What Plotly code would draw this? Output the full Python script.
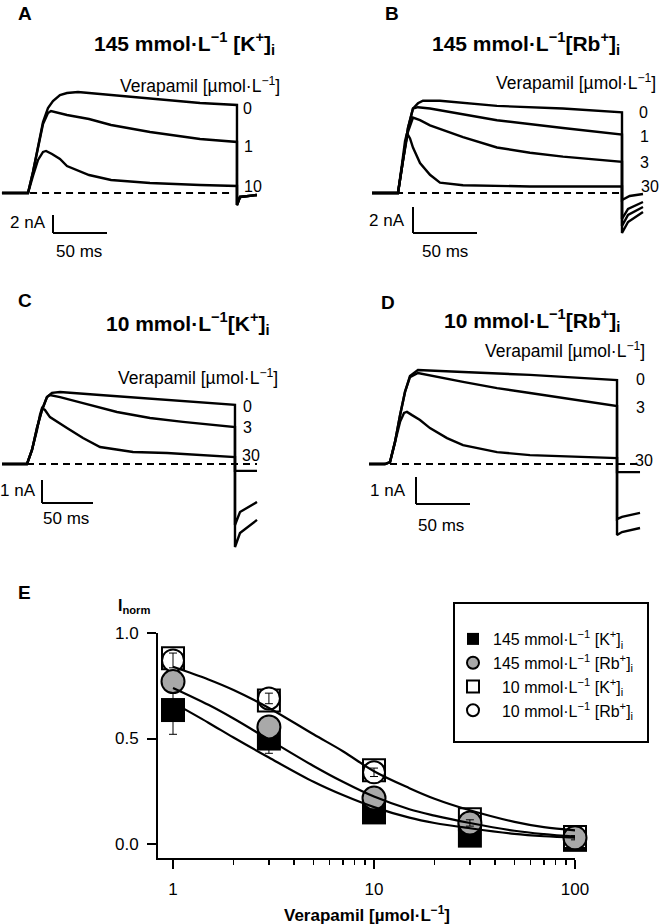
import math
import plotly.graph_objects as go

W, H = 661, 924
FONT = "Liberation Sans, Arial, Helvetica, sans-serif"

# ------------------------------------------------------------------ data
# Panel A: 145 mM K+  (time in ms from pulse onset, current in nA)
A_T_0 = [-24.1, 0, 4.6, 9.3, 13.9, 18.5, 23.1, 29.6, 36.1, 46.3, 76.9, 113, 159.3, 193.5, 193.5, 196.3, 212]
A_I_0 = [0, 0, 2.33, 5.33, 7.89, 9.44, 10.22, 10.89, 11.11, 11.22, 10.89, 10.56, 10.0, 9.78, -1.33, -0.44, -0.22]
A_T_1 = [-24.1, 0, 4.6, 9.3, 13.9, 18.5, 21.3, 36.1, 56.5, 76.9, 113, 159.3, 193.5, 193.5, 196.3, 212]
A_I_1 = [0, 0, 2.33, 5.22, 7.67, 8.89, 9.11, 8.67, 8.22, 7.56, 6.78, 6.0, 5.67, -1.33, -0.44, -0.22]
A_T_10 = [-24.1, 0, 4.6, 9.3, 13.9, 16.7, 22.2, 29.6, 36.1, 48.1, 56.5, 76.9, 113, 159.3, 193.5, 193.5, 196.3, 212]
A_I_10 = [0, 0, 1.89, 3.67, 4.56, 4.67, 4.33, 3.78, 3.0, 2.44, 2.0, 1.44, 1.11, 0.89, 0.78, -1.33, -0.44, -0.22]
A_BASE_T = [1.9, 190]
A_CONC = ["0", "1", "10"]

# Panel B: 145 mM Rb+
B_T_0 = [-20.3, 0, 3.9, 7.8, 11.7, 15.6, 19.5, 32.8, 77.3, 128.9, 175, 175, 179.7, 191.4]
B_I_0 = [0, 0, 2.5, 5.0, 6.5, 6.9, 7.1, 7.1, 6.7, 6.5, 6.2, -3.08, -2.23, -1.46]
B_T_1 = [-20.3, 0, 3.9, 7.8, 11.7, 15.6, 25, 48.4, 77.3, 128.9, 175, 175, 179.7, 191.4]
B_I_1 = [0, 0, 2.5, 5.0, 6.5, 6.6, 6.5, 6.1, 5.6, 5.0, 4.5, -2.54, -1.69, -1.08]
B_T_3 = [-20.3, 0, 3.9, 7.8, 11.7, 17.2, 25, 50.8, 77.3, 103.1, 128.9, 175, 175, 179.7, 191.4]
B_I_3 = [0, 0, 2.5, 4.7, 5.8, 5.6, 5.2, 4.3, 3.5, 3.1, 2.8, 2.4, -2.0, -1.23, -0.69]
B_T_30 = [-20.3, 0, 3.1, 5.5, 7.0, 9.4, 11.7, 17.2, 25, 32.8, 50.8, 103.1, 175, 175, 181, 191.4]
B_I_30 = [0, 0, 2.2, 4.0, 4.6, 4.2, 3.5, 2.3, 1.4, 0.8, 0.6, 0.5, 0.5, -0.54, -0.23, -0.08]
B_BASE_T = [-20.3, 173]
B_CONC = ["0", "1", "3", "30"]

# Panel C: 10 mM K+
C_T_0 = [-24.5, 0, 4.9, 9.8, 14.7, 19.6, 24.5, 32.4, 71.6, 137.3, 203.9, 203.9, 208.8, 225.5]
C_I_0 = [0, 0, 0.61, 1.57, 2.35, 2.91, 3.09, 3.13, 3.0, 2.78, 2.57, -3.61, -3.0, -2.43]
C_T_3 = [-24.5, 0, 4.9, 9.8, 14.7, 19.6, 22.5, 32.4, 54.9, 88.2, 120.6, 152.9, 203.9, 203.9, 208.8, 225.5]
C_I_3 = [0, 0, 0.61, 1.57, 2.35, 2.91, 3.0, 2.91, 2.65, 2.26, 2.0, 1.83, 1.61, -2.65, -2.09, -1.65]
C_T_30 = [-24.5, 0, 4.9, 9.8, 12.7, 14.7, 17.6, 22.5, 39.2, 54.9, 71.6, 103.9, 137.3, 203.9, 203.9, 225.5]
C_I_30 = [0, 0, 0.61, 1.48, 2.13, 2.43, 2.35, 2.04, 1.57, 1.13, 0.74, 0.52, 0.48, 0.30, -0.30, -0.30]
C_BASE_T = [0, 225.5]
C_CONC = ["0", "3", "30"]

# Panel D: 10 mM Rb+
D_T_0 = [-19.4, -4.6, 0, 4.6, 9.3, 13.9, 18.5, 25.9, 67.6, 129.6, 210.2, 210.2, 214.8, 231.5]
D_I_0 = [0, 0, 0.07, 0.81, 1.81, 2.67, 3.26, 3.48, 3.41, 3.30, 3.11, -2.63, -2.52, -2.37]
D_T_3 = [-19.4, -4.6, 0, 4.6, 9.3, 13.9, 18.5, 25.9, 67.6, 99.1, 129.6, 160.2, 210.2, 210.2, 214.8, 231.5]
D_I_3 = [0, 0, 0.07, 0.81, 1.81, 2.67, 3.22, 3.37, 3.04, 2.81, 2.63, 2.44, 2.15, -2.04, -1.96, -1.81]
D_T_30 = [-19.4, -4.6, 0, 4.6, 9.3, 13, 15.7, 20.4, 27.8, 37, 52.8, 67.6, 99.1, 129.6, 210.2, 210.2, 231.5]
D_I_30 = [0, 0, 0.07, 0.81, 1.56, 1.89, 1.93, 1.81, 1.63, 1.33, 0.96, 0.70, 0.44, 0.33, 0.22, -0.30, -0.30]
D_BASE_T = [0, 234]
D_CONC = ["0", "3", "30"]

SCALE_MS = 50
SCALE_NA = {"A": 2, "B": 2, "C": 1, "D": 1}

# Panel E: concentration-response (verapamil, µmol/L) and normalised current
VERA = [1, 3, 10, 30, 100]
K145 = [0.635, 0.50, 0.15, 0.04, 0.02]
K145_ERR = [0.115, 0.07, 0.025, 0.015, 0.01]
RB145 = [0.77, 0.555, 0.218, 0.10, 0.03]
RB145_ERR = [0.04, 0.03, 0.03, 0.02, 0.012]
K10 = [0.88, 0.68, 0.35, 0.118, 0.033]
K10_ERR = [0.03, 0.03, 0.03, 0.02, 0.01]
RB10 = [0.87, 0.69, 0.34, 0.10, 0.03]
RB10_ERR = [0.035, 0.025, 0.02, 0.015, 0.01]
SERIES_NAMES = ["145 mmol·L<sup>−1</sup> [K<sup>+</sup>]<sub>i</sub>",
                "145 mmol·L<sup>−1</sup> [Rb<sup>+</sup>]<sub>i</sub>",
                "\u00a0\u00a010 mmol·L<sup>−1</sup> [K<sup>+</sup>]<sub>i</sub>",
                "\u00a0\u00a010 mmol·L<sup>−1</sup> [Rb<sup>+</sup>]<sub>i</sub>"]
# fitted curves
CURVE_X = [1, 1.5, 2, 3, 5, 7, 10, 15, 20, 30, 50, 70, 100]
FIT_10 = [0.84, 0.78, 0.73, 0.645, 0.52, 0.44, 0.345, 0.265, 0.215, 0.16, 0.105, 0.08, 0.065]
FIT_RB145 = [0.74, 0.66, 0.595, 0.495, 0.37, 0.295, 0.225, 0.165, 0.135, 0.10, 0.063, 0.047, 0.035]
FIT_K145 = [0.67, 0.575, 0.505, 0.41, 0.295, 0.232, 0.175, 0.125, 0.10, 0.075, 0.048, 0.037, 0.03]

# ------------------------------------------------------------------ layout helpers
def px(x):
    return x / W


def py(y):
    return 1 - y / H


# pixel geometry of the trace panels (origin = pulse onset / zero current)
PANELS = {
    "A": dict(ax="", x0=28, y0=193, sx=1.08, sy=9.0, box=(0, 330, 55, 275), bar=(53, 215)),
    "B": dict(ax="2", x0=398, y0=193, sx=1.28, sy=13.0, box=(335, 661, 55, 275), bar=(413, 207)),
    "C": dict(ax="3", x0=27, y0=464, sx=1.02, sy=23.0, box=(0, 330, 320, 560), bar=(42, 480)),
    "D": dict(ax="4", x0=390, y0=464, sx=1.08, sy=27.0, box=(335, 661, 320, 560), bar=(416, 477)),
}

TRACES = {
    "A": ([A_T_0, A_T_1, A_T_10], [A_I_0, A_I_1, A_I_10], A_BASE_T),
    "B": ([B_T_0, B_T_1, B_T_3, B_T_30], [B_I_0, B_I_1, B_I_3, B_I_30], B_BASE_T),
    "C": ([C_T_0, C_T_3, C_T_30], [C_I_0, C_I_3, C_I_30], C_BASE_T),
    "D": ([D_T_0, D_T_3, D_T_30], [D_I_0, D_I_3, D_I_30], D_BASE_T),
}

fig = go.Figure()
layout = dict(
    width=W, height=H, margin=dict(l=0, r=0, t=0, b=0),
    paper_bgcolor="white", plot_bgcolor="rgba(0,0,0,0)",
    font=dict(family=FONT, color="black", size=16),
    showlegend=True,
)
shapes = []
annotations = []


def text(x, y, s, size=16, bold=False, xanchor="center", yanchor="middle"):
    annotations.append(dict(
        x=px(x), y=py(y), xref="paper", yref="paper", text=("<b>%s</b>" % s) if bold else s,
        showarrow=False, xanchor=xanchor, yanchor=yanchor,
        font=dict(family=FONT, size=size, color="black")))


for key, p in PANELS.items():
    l, r, t, b = p["box"]
    xa, ya = "xaxis" + p["ax"], "yaxis" + p["ax"]
    xr, yr = "x" + p["ax"], "y" + p["ax"]
    layout[xa] = dict(domain=[px(l), px(r)], range=[(l - p["x0"]) / p["sx"], (r - p["x0"]) / p["sx"]],
                      visible=False, anchor=yr, fixedrange=True)
    layout[ya] = dict(domain=[py(b), py(t)], range=[(p["y0"] - b) / p["sy"], (p["y0"] - t) / p["sy"]],
                      visible=False, anchor=xr, fixedrange=True)
    ts, cs, base = TRACES[key]
    # zero-current reference line
    fig.add_trace(go.Scatter(x=base, y=[0, 0], mode="lines", xaxis=xr, yaxis=yr,
                             line=dict(color="black", width=2, dash="7px,5px"),
                             showlegend=False, hoverinfo="skip", cliponaxis=False))
    for tt, cc in zip(ts, cs):
        fig.add_trace(go.Scatter(x=tt, y=cc, mode="lines", xaxis=xr, yaxis=yr,
                                 line=dict(color="black", width=2.4),
                                 showlegend=False, hoverinfo="skip", cliponaxis=False))
    # scale bars
    bt = (p["bar"][0] - p["x0"]) / p["sx"]
    bi = (p["y0"] - p["bar"][1]) / p["sy"]
    na = SCALE_NA[key]
    shapes.append(dict(type="line", xref=xr, yref=yr, x0=bt, x1=bt, y0=bi, y1=bi - na,
                       line=dict(color="black", width=2)))
    shapes.append(dict(type="line", xref=xr, yref=yr, x0=bt, x1=bt + SCALE_MS, y0=bi - na, y1=bi - na,
                       line=dict(color="black", width=2)))

# ---- panel texts
VERA_LBL = "Verapamil [µmol·L<sup>−1</sup>]"
text(25, 14, "A", 19, True)
text(392, 14, "B", 19, True)
text(25, 300, "C", 19, True)
text(388, 302, "D", 19, True)
text(24, 592, "E", 19, True)

TS = 21
text(184, 43, "145 mmol·L<sup>−1</sup> [K<sup>+</sup>]<sub>i</sub>", TS, True)
text(526, 43, "145 mmol·L<sup>−1</sup>[Rb<sup>+</sup>]<sub>i</sub>", TS, True)
text(188, 323, "10 mmol·L<sup>−1</sup>[K<sup>+</sup>]<sub>i</sub>", TS, True)
text(532, 320, "10 mmol·L<sup>−1</sup>[Rb<sup>+</sup>]<sub>i</sub>", TS, True)

VS = 17.5
text(200, 85, VERA_LBL, VS)
text(576, 82, VERA_LBL, VS)
text(198, 377, VERA_LBL, VS)
text(565, 350, VERA_LBL, VS)

for (x, y), s in zip([(247, 108), (248, 147), (253, 186)], A_CONC):
    text(x, y, s, 16)
for (x, y), s in zip([(643, 112), (644, 136), (644, 162), (650, 186)], B_CONC):
    text(x, y, s, 16)
for (x, y), s in zip([(247, 406), (247, 427), (251, 455)], C_CONC):
    text(x, y, s, 16)
for (x, y), s in zip([(640, 380), (640, 408), (644, 460)], D_CONC):
    text(x, y, s, 16)

SS = 17
text(48, 222, "%d nA" % SCALE_NA["A"], SS, xanchor="right")
text(79, 252, "%d ms" % SCALE_MS, SS)
text(407, 220, "%d nA" % SCALE_NA["B"], SS, xanchor="right")
text(445, 252, "%d ms" % SCALE_MS, SS)
text(38, 490, "%d nA" % SCALE_NA["C"], SS, xanchor="right")
text(66, 518, "%d ms" % SCALE_MS, SS)
text(408, 490, "%d nA" % SCALE_NA["D"], SS, xanchor="right")
text(441, 525, "%d ms" % SCALE_MS, SS)

# ------------------------------------------------------------------ panel E
layout["xaxis5"] = dict(
    type="log", domain=[px(158), px(575)], range=[math.log10(0.842), 2], anchor="y5",
    showline=True, linewidth=2, linecolor="black", showgrid=False, zeroline=False,
    ticks="outside", ticklen=9, tickwidth=2, tickcolor="black",
    tickmode="array", tickvals=[1, 10, 100], ticktext=["1", "10", "100"],
    tickfont=dict(family=FONT, size=17), ticklabelstandoff=6,
    minor=dict(ticks="outside", ticklen=5, tickwidth=1.5, tickcolor="black", showgrid=False,
               tickmode="array", tickvals=[2, 3, 4, 5, 6, 7, 8, 9, 20, 30, 40, 50, 60, 70, 80, 90]),
    fixedrange=True, automargin=False)
layout["yaxis5"] = dict(
    domain=[py(858), py(633)], range=[-0.066, 1.0], anchor="x5",
    showline=True, linewidth=2, linecolor="black", showgrid=False, zeroline=False,
    ticks="outside", ticklen=9, tickwidth=2, tickcolor="black",
    tickmode="array", tickvals=[0, 0.5, 1.0], ticktext=["0.0", "0.5", "1.0"],
    tickfont=dict(family=FONT, size=17), ticklabelstandoff=5,
    fixedrange=True, automargin=False)

GRAY = "#a9a9a9"
styles = [
    dict(symbol="square", size=24, color="black", line=dict(color="black", width=0)),
    dict(symbol="square", size=22, color="white", line=dict(color="black", width=2)),
    dict(symbol="circle", size=22, color="white", line=dict(color="black", width=2)),
    dict(symbol="circle", size=23, color=GRAY, line=dict(color="black", width=2)),
]
series = [(K145, K145_ERR, SERIES_NAMES[0], 1), (K10, K10_ERR, SERIES_NAMES[2], 3),
          (RB10, RB10_ERR, SERIES_NAMES[3], 4), (RB145, RB145_ERR, SERIES_NAMES[1], 2)]
for (vals, errs, name, rank), st in zip(series, styles):
    fig.add_trace(go.Scatter(
        x=VERA, y=vals, mode="markers", name=name, legendrank=rank, xaxis="x5", yaxis="y5",
        marker=st, cliponaxis=False, hoverinfo="skip",
        error_y=dict(type="data", array=errs, visible=True, color="black", thickness=1, width=4)))

# visible error bars drawn above white / grey symbols
for vals, errs in [(RB10, RB10_ERR)]:
    fig.add_trace(go.Scatter(
        x=VERA, y=vals, mode="markers", xaxis="x5", yaxis="y5", showlegend=False,
        marker=dict(size=1, opacity=0), cliponaxis=False, hoverinfo="skip",
        error_y=dict(type="data", array=errs, visible=True, color="black", thickness=1, width=4)))

for fit in [FIT_10, FIT_RB145, FIT_K145]:
    fig.add_trace(go.Scatter(
        x=CURVE_X, y=fit, mode="lines", line=dict(color="black", width=2.2, shape="spline"),
        xaxis="x5", yaxis="y5", showlegend=False, hoverinfo="skip", cliponaxis=False))

text(134, 606, "I<sub>norm</sub>", 16, True)
text(367, 914, VERA_LBL, 17, True)

# legend frame
shapes.append(dict(type="rect", xref="paper", yref="paper", x0=px(454), x1=px(648), y0=py(742), y1=py(603),
                   line=dict(color="black", width=2), fillcolor="rgba(0,0,0,0)"))
layout["legend"] = dict(x=px(453), y=py(622), xanchor="left", yanchor="top",
                        bgcolor="rgba(0,0,0,0)", borderwidth=0, itemsizing="constant",
                        font=dict(family=FONT, size=16, color="black"), tracegroupgap=0)

layout["shapes"] = shapes
layout["annotations"] = annotations
fig.update_layout(**layout)
fig.write_html("out.html", config={"displayModeBar": False, "staticPlot": True},
               post_script="document.body.style.margin='0px';")
